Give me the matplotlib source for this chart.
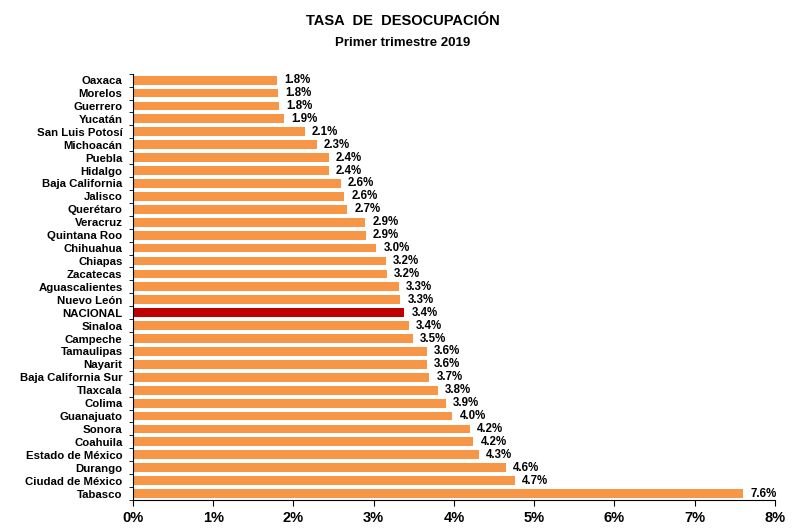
import matplotlib.pyplot as plt
import numpy as np

states = ['Oaxaca', 'Morelos', 'Guerrero', 'Yucatán', 'San Luis Potosí', 'Michoacán',
          'Puebla', 'Hidalgo', 'Baja California', 'Jalisco', 'Querétaro', 'Veracruz',
          'Quintana Roo', 'Chihuahua', 'Chiapas', 'Zacatecas', 'Aguascalientes',
          'Nuevo León', 'NACIONAL', 'Sinaloa', 'Campeche', 'Tamaulipas', 'Nayarit',
          'Baja California Sur', 'Tlaxcala', 'Colima', 'Guanajuato', 'Sonora',
          'Coahuila', 'Estado de México', 'Durango', 'Ciudad de México', 'Tabasco']
rates = [1.79, 1.81, 1.82, 1.88, 2.14, 2.29, 2.44, 2.44, 2.59, 2.63, 2.67, 2.89,
         2.90, 3.03, 3.15, 3.16, 3.31, 3.33, 3.38, 3.44, 3.49, 3.66, 3.66, 3.69,
         3.80, 3.90, 3.98, 4.20, 4.24, 4.31, 4.65, 4.76, 7.60]
shown = ['1.8%', '1.8%', '1.8%', '1.9%', '2.1%', '2.3%', '2.4%', '2.4%', '2.6%', '2.6%',
         '2.7%', '2.9%', '2.9%', '3.0%', '3.2%', '3.2%', '3.3%', '3.3%', '3.4%', '3.4%',
         '3.5%', '3.6%', '3.6%', '3.7%', '3.8%', '3.9%', '4.0%', '4.2%', '4.2%', '4.3%',
         '4.6%', '4.7%', '7.6%']
xticks = [0, 1, 2, 3, 4, 5, 6, 7, 8]

plt.rcParams['font.family'] = ['Liberation Sans', 'DejaVu Sans']

fig = plt.figure(figsize=(8.06, 5.30), dpi=100)
ax = fig.add_axes([0.165, 0.0566, 0.7965, 0.8044])

y = np.arange(len(states))
colors = ['#C00000' if s == 'NACIONAL' else '#F79646' for s in states]
ax.barh(y, rates, height=0.68, color=colors)

for yi, v, lab in zip(y, rates, shown):
    ax.text(v + 0.09, yi, lab, va='center', ha='left', fontsize=8.3, fontweight='bold')

ax.set_ylim(len(states) - 0.5, -0.5)
ax.set_xlim(0, 8)
ax.set_yticks(y)
ax.set_yticklabels(states, fontsize=8.2, fontweight='bold')
ax.set_yticks(np.arange(len(states) + 1) - 0.5, minor=True)
ax.tick_params(axis='y', which='major', length=0, pad=7.5)
ax.tick_params(axis='y', which='minor', length=3, direction='out')
ax.set_xticks(xticks)
ax.set_xticklabels([f'{t}%' for t in xticks], fontsize=10.5, fontweight='bold')
ax.tick_params(axis='x', length=4, direction='out', pad=4)

for side in ['top', 'right']:
    ax.spines[side].set_visible(False)
for side in ['left', 'bottom']:
    ax.spines[side].set_linewidth(0.8)

fig.text(0.5, 0.960, 'TASA  DE  DESOCUPACIÓN', ha='center', va='center',
         fontsize=10.5, fontweight='bold')
fig.text(0.5, 0.918, 'Primer trimestre 2019', ha='center', va='center',
         fontsize=9.5, fontweight='bold')

fig.savefig('out.png', dpi=100)
